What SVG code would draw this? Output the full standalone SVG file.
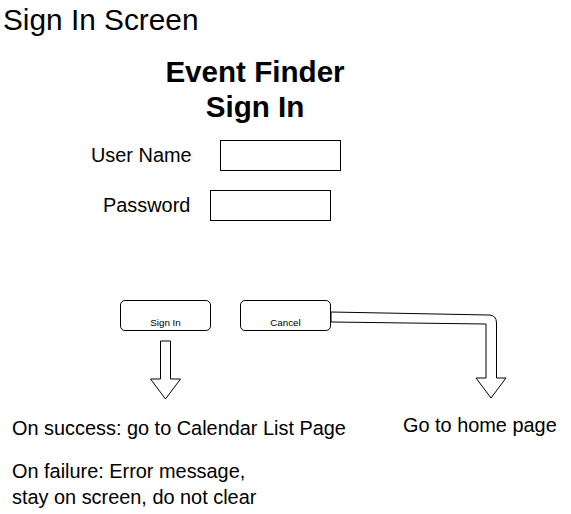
<svg xmlns="http://www.w3.org/2000/svg" width="571" height="514" viewBox="0 0 571 514">
<style>
text{font-family:"Liberation Sans",Arial,Helvetica,sans-serif;fill:#000}
.t{font-size:19.9px}
.b{fill:#fff;stroke:#000;stroke-width:1}
.s{font-size:9.8px}
.h{font-size:29.6px;font-weight:bold}
.arr{fill:#fff;stroke:#000;stroke-width:1;stroke-linejoin:miter}
</style>
<rect width="571" height="514" fill="#fff"/>
<g id="screen-title"><text x="3" y="30" style="font-size:29.8px">Sign In Screen</text></g>
<g id="header"><text class="h" x="255" y="82" text-anchor="middle">Event Finder</text><text class="h" x="255" y="117" text-anchor="middle">Sign In</text></g>
<g id="username-label"><text class="t" x="91" y="162">User Name</text></g>
<g id="username-input"><rect class="b" x="220.5" y="140.5" width="120" height="30"/></g>
<g id="password-label"><text class="t" x="103" y="212">Password</text></g>
<g id="password-input"><rect class="b" x="210.5" y="190.5" width="120" height="30"/></g>
<g id="signin-button"><rect class="b" x="120.5" y="300.5" width="90" height="30" rx="4.5"/><text class="s" x="165.5" y="326" text-anchor="middle">Sign In</text></g>
<g id="cancel-button"><rect class="b" x="240.5" y="300.5" width="90" height="30" rx="4.5"/><text class="s" x="285.5" y="326" text-anchor="middle">Cancel</text></g>
<g id="connectors">
<path class="arr" d="M160.5,341 L170.5,341 L170.5,379 L180.5,379 L165.5,399 L150.5,379 L160.5,379 Z"/>
<path class="arr" d="M331,312 L489,315 Q496.5,315.2 496.5,323 L496.5,378 L506,378 L491,398 L476,378 L486,378 L486,324 L331,322 Z"/>
</g>
<g id="success-text"><text class="t" x="12" y="435">On success: go to Calendar List Page</text></g>
<g id="failure-text"><text class="t" x="12" y="478">On failure: Error message,</text><text class="t" x="12" y="504">stay on screen, do not clear</text></g>
<g id="home-text"><text class="t" x="403" y="432">Go to home page</text></g>
</svg>
